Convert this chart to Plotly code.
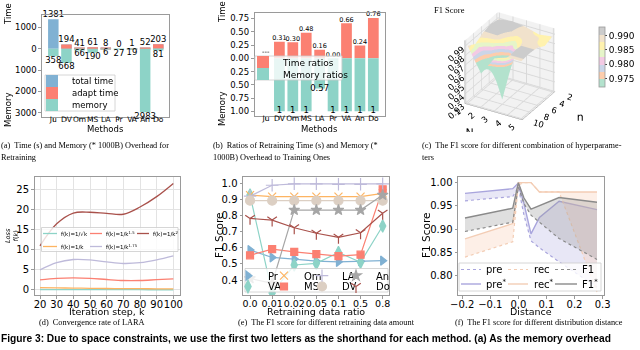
import plotly.graph_objects as go

W, H = 640, 350
def X(p):
    return p / W
def Y(p):
    return 1 - p / H

# ---------------- data ----------------
methods = ["Ju", "DV", "Om", "MS", "LA", "Pr", "VA", "An", "Do"]
total_time = [1381, 194, 41, 61, 8, 0, 1, 52, 203]
adapt_time = [None, 194, 41, 61, 8, 0, 1, 52, 203]
memory_kb = [358, 668, 66, 190, 6, 27, 19, 2983, 81]

time_ratio = [None, 0.31, 0.30, 0.48, 0.16, 0.00, 0.66, 0.24, 0.76]
memory_ratio = [None, 1, 1, 1, 0.57, 1, 1, 1, 1]

N_vals = [1, 2, 3, 4, 5]
n_vals = [2, 4, 6, 8, 10]
f1_grid = [  # rows: n, cols: N
    [0.990, 0.992, 0.990, 0.986, 0.988],
    [0.992, 0.993, 0.988, 0.990, 0.985],
    [0.990, 0.990, 0.980, 0.990, 0.990],
    [0.985, 0.975, 0.935, 0.991, 0.991],
    [0.990, 0.965, 0.985, 0.990, 0.990],
]

k_steps = [20, 30, 40, 50, 60, 70, 80, 90, 100]
conv_sqrt = [0.10, 0.08, 0.07, 0.06, 0.05, 0.05, 0.05, 0.04, 0.04]
conv_k1 = [0.55, 0.50, 0.45, 0.40, 0.35, 0.30, 0.30, 0.28, 0.27]
conv_k15 = [2.5, 2.9, 3.0, 2.9, 2.6, 2.35, 2.35, 2.55, 2.75]
conv_k175 = [5.0, 6.8, 7.6, 7.5, 7.0, 6.6, 6.8, 7.5, 8.5]
conv_k2 = [11.0, 16.5, 19.2, 19.4, 19.1, 18.9, 20.7, 23.3, 26.6]

ratios = ["0.0", "0.01", "0.02", "0.05", "0.1", "0.5", "0.8"]
f1_Pr = [0.586, 0.540, 0.530, 0.517, 0.513, 0.517, 0.520]
f1_VA = [0.927, 0.320, 0.493, 0.503, 0.571, 0.510, 0.735]
f1_Om = [0.927, 0.917, 0.917, 0.917, 0.917, 0.917, 0.938]
f1_MS = [0.553, 0.592, 0.575, 0.560, 0.548, 0.557, 0.963]
f1_LA = [0.920, 0.988, 0.997, 0.997, 0.994, 0.994, 0.997]
f1_DV = [0.892, 0.892, 0.892, 0.892, 0.892, 0.892, 0.892]
f1_An = [0.410, 0.380, 0.834, 0.834, 0.834, 0.834, 0.927]
f1_Do = [0.782, 0.772, 0.724, 0.690, 0.665, 0.693, 0.814]

dist = [-0.19, -0.02, 0.0, 0.02, 0.045, 0.075, 0.145, 0.28]
pre = [0.961, 0.970, 0.990, 0.930, 0.875, 0.860, 0.830, 0.775]
pre_s = [0.977, 0.987, 0.999, 0.955, 0.890, 0.925, 0.960, 0.942]
rec = [0.840, 0.873, 0.995, 1.000, 1.000, 0.980, 0.980, 0.765]
rec_s = [0.879, 0.912, 1.000, 1.000, 1.000, 0.980, 0.980, 0.980]
f1d = [0.895, 0.915, 0.990, 0.955, 0.930, 0.915, 0.880, 0.835]
f1d_s = [0.924, 0.945, 1.000, 0.967, 0.943, 0.950, 0.968, 0.958]

# ---------------- styles ----------------
BLUE, RED, TEAL = "#80b1d3", "#fb8072", "#8dd3c7"
ORANGE, LAV, GRAY = "#fdb462", "#bebada", "#a6a6a6"
BEIGE, BROWN = "#dccfc3", "#a9514b"
AX = "#9a9a9a"
SANS = "DejaVu Sans"
SERIF = "Liberation Serif"
LEG_DY = 0

fig = go.Figure()
ann = []
shapes = []
legends = {}


def text(x, y, s, size=9, family=SANS, xanchor="center", yanchor="middle", angle=0, color="#000"):
    ann.append(dict(x=X(x), y=Y(y), xref="paper", yref="paper", text=s, showarrow=False,
                    font=dict(size=size, family=family, color=color), xanchor=xanchor,
                    yanchor=yanchor, textangle=angle, borderpad=0))


def frame(x0, y0, x1, y1):
    shapes.append(dict(type="rect", xref="paper", yref="paper", x0=X(x0), x1=X(x1), y0=Y(y1), y1=Y(y0),
                       line=dict(color="#cccccc", width=0.8), fillcolor="rgba(255,255,255,0.8)", layer="above"))


leg_count = [0]
def new_legend(tx, ty, size):
    leg_count[0] += 1
    lid = "legend" if leg_count[0] == 1 else "legend%d" % leg_count[0]
    legends[lid] = dict(x=X(tx - 40), y=Y(ty + LEG_DY), xanchor="left", yanchor="middle", bgcolor="rgba(0,0,0,0)",
                        borderwidth=0, font=dict(size=size, family=SANS, color="#000"),
                        itemwidth=30, tracegroupgap=0)
    return lid


def axis_style(**kw):
    d = dict(showline=True, mirror=True, linecolor=AX, linewidth=0.8, ticks="outside", ticklen=3,
             tickcolor=AX, showgrid=False, zeroline=False, tickangle=0, automargin=False)
    d.update(kw)
    return d


def value_labels(xs, vals, neg, fmt, size, xa, ya, pos=None):
    px_, py_, pt_ = [], [], []
    for xv, v in zip(xs, vals):
        if v is None:
            continue
        px_.append(xv)
        py_.append(-v if neg else v)
        pt_.append(fmt(v))
    if pos is None:
        pos = "bottom center" if neg else "top center"
    fig.add_trace(go.Scatter(x=px_, y=py_, text=pt_, mode="text", textposition=pos,
                             textfont=dict(size=size, family=SANS, color="#000"), cliponaxis=False,
                             showlegend=False, hoverinfo="skip", xaxis=xa, yaxis=ya))

# ---------------- (a) ----------------
fig.add_trace(go.Bar(x=methods, y=total_time, marker=dict(color=BLUE, line=dict(width=0)), width=0.8,
                     name="total time", legend=new_legend(72, 81, 8.5), xaxis="x", yaxis="y"))
fig.add_trace(go.Bar(x=methods, y=adapt_time, marker=dict(color=RED, line=dict(width=0)), width=0.8,
                     name="adapt time", legend=new_legend(72, 93, 8.5), xaxis="x", yaxis="y"))
fig.add_trace(go.Bar(x=methods, y=[-m for m in memory_kb], marker=dict(color=TEAL, line=dict(width=0)), width=0.8,
                     name="memory", legend=new_legend(72, 105, 8.5), xaxis="x", yaxis="y"))
value_labels(methods, total_time, False, str, 8.5, "x", "y")
value_labels(methods, memory_kb, True, str, 8.5, "x", "y")
frame(45, 75, 115, 111)

# ---------------- (b) ----------------
fig.add_trace(go.Bar(x=methods, y=time_ratio, marker=dict(color=RED, line=dict(width=0)), width=0.8,
                     name="Time ratios", legend=new_legend(283, 62, 9), xaxis="x2", yaxis="y2"))
fig.add_trace(go.Bar(x=methods, y=[None if v is None else -v for v in memory_ratio],
                     marker=dict(color=TEAL, line=dict(width=0)), width=0.8,
                     name="Memory ratios", legend=new_legend(283, 74, 9), xaxis="x2", yaxis="y2"))
value_labels(methods, time_ratio, False, lambda v: "%.2f" % v, 6.5, "x2", "y2")
value_labels(methods, memory_ratio, True, lambda v: "%g" % v, 8.5, "x2", "y2", pos="middle center")
ann.append(dict(x="Ju", y=0, xref="x2", yref="y2", text="---", showarrow=False, yanchor="bottom",
                font=dict(size=7, family=SANS, color="#000")))
frame(255, 56, 342, 80)

# ---------------- (c) 3D ----------------
pastel2 = ["#b3e2cd", "#fdcdac", "#cbd5e8", "#f4cae4", "#e6f5c9", "#fff2ae", "#f1e2cc", "#cccccc"]
cs = []
for i, c in enumerate(pastel2):
    cs.append([i / 8, c])
    cs.append([(i + 1) / 8, c])
fig.add_trace(go.Surface(x=N_vals, y=n_vals, z=f1_grid, colorscale=cs, cmin=0.972, cmax=0.993,
                         lighting=dict(ambient=1, diffuse=0, specular=0, roughness=1, fresnel=0),
                         colorbar=dict(x=X(599), xanchor="left", xpad=0, ypad=0, y=Y(57), yanchor="middle",
                                       len=60 / H, thickness=6, outlinecolor=AX, outlinewidth=0.8,
                                       tickvals=[0.975, 0.98, 0.985, 0.99], ticktext=["0.975", "0.980", "0.985", "0.990"],
                                       tickfont=dict(size=9, family=SANS), ticks="outside", ticklen=2),
                         showscale=True, scene="scene", hoverinfo="skip"))
text(433, 10, "F1 Score", size=8.5, family=SERIF, xanchor="left")

# ---------------- (d) ----------------
conv_series = [(conv_sqrt, TEAL, "f(k)=1/√k"),
               (conv_k1, ORANGE, "f(k)=1/k"),
               (conv_k15, RED, "f(k)=1/k<sup>1.5</sup>"),
               (conv_k175, LAV, "f(k)=1/k<sup>1.75</sup>"),
               (conv_k2, BROWN, "f(k)=1/k<sup>2</sup>")]
for vals, col, name in conv_series:
    fig.add_trace(go.Scatter(x=k_steps, y=vals, mode="lines", line=dict(color=col, width=1.3, shape="spline"),
                             name=name, showlegend=False, xaxis="x3", yaxis="y3"))
frame(41.5, 227.5, 178, 251.5)
d_pos = [(43, 57, 60, 233.5), (43, 57, 60, 246.5), (90, 102, 105, 233.5), (90, 102, 105, 246.5), (137, 149, 152, 233.5)]
for (vals, col, name), (l0, l1, tx, ty) in zip(conv_series, d_pos):
    shapes.append(dict(type="line", xref="paper", yref="paper", x0=X(l0), x1=X(l1), y0=Y(ty), y1=Y(ty),
                       line=dict(color=col, width=1.3), layer="above"))
    text(tx, ty, name, size=5.5, xanchor="left")

# ---------------- (e) ----------------
e_series = [("Pr", f1_Pr, BLUE, "triangle-right", 8),
            ("VA", f1_VA, TEAL, "diamond-tall", 9),
            ("Om", f1_Om, ORANGE, "x-thin-open", 8),
            ("MS", f1_MS, RED, "square", 7),
            ("LA", f1_LA, LAV, "cross-thin-open", 9),
            ("DV", f1_DV, BEIGE, "circle", 9),
            ("An", f1_An, GRAY, "star", 8),
            ("Do", f1_Do, BROWN, "y-down-open", 8)]
e_leg = [(268, 275.7), (268, 286.5), (304, 275.7), (304, 286.5), (342, 275.7), (342, 286.5), (376, 275.7), (376, 286.5)]
for (name, vals, col, sym, sz), (tx, ty) in zip(e_series, e_leg):
    fig.add_trace(go.Scatter(x=ratios, y=vals, mode="lines", line=dict(color=col, width=1.2),
                             showlegend=False, xaxis="x4", yaxis="y4"))
    fig.add_trace(go.Scatter(x=ratios, y=vals, mode="markers", name=name,
                             marker=dict(symbol=sym, size=sz, color=col, line=dict(color=col, width=1.2)),
                             legend=new_legend(tx, ty, 10), xaxis="x4", yaxis="y4"))
frame(245, 268.5, 388, 292)

# ---------------- (f) ----------------
f_groups = [("pre", pre, pre_s, "#a9a5dd", "rgba(190,186,230,0.35)"),
            ("rec", rec, rec_s, "#f3cdb5", "rgba(248,210,185,0.35)"),
            ("F1", f1d, f1d_s, "#8a8a8a", "rgba(150,150,150,0.30)")]
for name, lo, hi, col, fillc in f_groups:
    fig.add_trace(go.Scatter(x=dist, y=lo, mode="lines", line=dict(color=col, width=1.2, dash="dot"),
                             name=name, showlegend=False, xaxis="x5", yaxis="y5"))
    fig.add_trace(go.Scatter(x=dist, y=hi, mode="lines", line=dict(color=col, width=1.4),
                             fill="tonexty", fillcolor=fillc,
                             name=name + "*", showlegend=False, xaxis="x5", yaxis="y5"))
frame(459, 263, 601, 291)
f_cols = [(461, 481, 485), (508, 528, 533), (555, 577, 581)]
for (name, lo, hi, col, fillc), (l0, l1, tx) in zip(f_groups, f_cols):
    shapes.append(dict(type="line", xref="paper", yref="paper", x0=X(l0), x1=X(l1), y0=Y(269.5), y1=Y(269.5),
                       line=dict(color=col, width=1.2, dash="dot"), layer="above"))
    shapes.append(dict(type="line", xref="paper", yref="paper", x0=X(l0), x1=X(l1), y0=Y(284), y1=Y(284),
                       line=dict(color=col, width=1.4), layer="above"))
    text(tx, 269.5, name, size=10, xanchor="left")
    text(tx, 284, name + "<sup>*</sup>", size=10, xanchor="left")

# ---------------- axis titles & captions ----------------
text(8, 14, "Time", size=8.5, angle=-90)
text(8, 110, "Memory", size=8.5, angle=-90)
text(105.8, 129, "Methods", size=8.5)
text(222, 12, "Time", size=8.5, angle=-90)
text(222, 109, "Memory", size=8.5, angle=-90)
text(319.6, 129, "Methods", size=8.5)
text(12, 236, "<i>Loss</i><br><i>f</i>(<i>k</i>)", size=6.5, angle=-90)
text(107, 311, "Iteration step, k", size=9.5)
text(219, 236, "F1 Score", size=10.5, angle=-90)
text(316, 311, "Retraining data ratio", size=9.5)
text(426, 236, "F1 Score", size=10.5, angle=-90)
text(531, 311, "Distance", size=9.5)

text(0, 145, "(a)  Time (s) and Memory (* 1000B) Overhead for", size=8.3, family=SERIF, xanchor="left")
text(0, 157, "Retraining", size=8.3, family=SERIF, xanchor="left")
text(212, 145, "(b)  Ratios of Retraining Time (s) and Memory (*", size=8.3, family=SERIF, xanchor="left")
text(212, 157, "1000B) Overhead to Training Ones", size=8.3, family=SERIF, xanchor="left")
text(421, 145, "(c)  The F1 score for different combination of hyperparame-", size=8.3, family=SERIF, xanchor="left")
text(421, 157, "ters", size=8.3, family=SERIF, xanchor="left")
text(92, 322, "(d)  Convergence rate of LARA", size=8.3, family=SERIF)
text(326, 322, "(e)  The F1 score for different retraining data amount", size=8.3, family=SERIF)
text(539, 322, "(f)  The F1 score for different distribution distance", size=8.3, family=SERIF)
text(0, 338, "<b>Figure 3: Due to space constraints, we use the first two letters as the shorthand for each method. (a) As the memory overhead</b>",
     size=10.2, family="Liberation Sans", xanchor="left")

# ---------------- layout ----------------
tf_tiny = dict(size=7.5, family=SANS, color="#000")
tf_small = dict(size=8.5, family=SANS, color="#000")
tf_big = dict(size=10, family=SANS, color="#000")
tf_cat = dict(size=9.5, family=SANS, color="#000")
layout = dict(
    width=W, height=H, margin=dict(l=0, r=0, t=0, b=0, pad=0, autoexpand=False),
    paper_bgcolor="white", plot_bgcolor="white", barmode="overlay",
    font=dict(family=SANS, color="#000"),
    xaxis=axis_style(domain=[X(42.3), X(169.3)], range=[-0.84, 8.84], tickfont=tf_tiny, anchor="y",
                     ticklabelstandoff=-8),
    yaxis=axis_style(domain=[Y(117), Y(14.5)], range=[-3201, 1599], tickvals=[1000, 0, -1000, -2000, -3000],
                     ticktext=["1000", "0", "1000", "2000", "3000"], tickfont=tf_small, anchor="x"),
    xaxis2=axis_style(domain=[X(254.7), X(384.6)], range=[-0.84, 8.84], tickfont=tf_tiny, anchor="y2",
                      ticklabelstandoff=-8),
    yaxis2=axis_style(domain=[Y(116), Y(13.3)], range=[-1.088, 0.848],
                      tickvals=[0.75, 0.5, 0.25, 0, -0.25, -0.5, -0.75, -1],
                      ticktext=["0.75", "0.50", "0.25", "0.00", "0.25", "0.50", "0.75", "1.00"],
                      tickfont=tf_small, anchor="x2"),
    xaxis3=axis_style(domain=[X(35), X(180)], range=[17, 104], tickvals=k_steps, tickfont=tf_big,
                      showgrid=True, gridcolor="#e3e3e3", gridwidth=0.8, anchor="y3", ticklabelstandoff=-3),
    yaxis3=axis_style(domain=[Y(295), Y(177)], range=[-1.27, 28.2], tickvals=[0, 5, 10, 15, 20, 25],
                      tickfont=tf_big, showgrid=True, gridcolor="#e3e3e3", gridwidth=0.8, anchor="x3"),
    xaxis4=axis_style(domain=[X(243.4), X(389.3)], type="category", range=[-0.3, 6.3], tickfont=tf_cat, anchor="y4",
                      ticklabelstandoff=-3),
    yaxis4=axis_style(domain=[Y(295), Y(176.7)], range=[0.307, 1.041], tickvals=[0.4, 0.5, 0.6, 0.7, 0.8, 0.9, 1.0],
                      tickformat=".1f", tickfont=tf_big, anchor="x4"),
    xaxis5=axis_style(domain=[X(458.4), X(603.6)], range=[-0.2135, 0.3035],
                      tickvals=[-0.2, -0.1, 0.0, 0.1, 0.2, 0.3],
                      ticktext=["\u22120.2", "\u22120.1", "0.0", "0.1", "0.2", "0.3"], tickfont=tf_big, anchor="y5",
                      ticklabelstandoff=-3),
    yaxis5=axis_style(domain=[Y(295), Y(177.3)], range=[0.7585, 1.0115], tickvals=[0.8, 0.85, 0.9, 0.95, 1.0],
                      tickformat=".2f", tickfont=tf_big, anchor="x5"),
    scene=dict(
        domain=dict(x=[X(422), X(598)], y=[Y(132), Y(0)]),
        xaxis=dict(title=dict(text="N", font=dict(size=11, family=SANS)), tickvals=N_vals,
                   tickfont=dict(size=10, family=SANS), showbackground=True, backgroundcolor="rgb(242,242,242)",
                   gridcolor="#d9d9d9", zeroline=False, showspikes=False, linecolor="#999"),
        yaxis=dict(title=dict(text="n", font=dict(size=11, family=SANS)), tickvals=n_vals, autorange="reversed",
                   tickfont=dict(size=10, family=SANS), showbackground=True, backgroundcolor="rgb(242,242,242)",
                   gridcolor="#d9d9d9", zeroline=False, showspikes=False, linecolor="#999"),
        zaxis=dict(title=dict(text=""), range=[0.93, 0.996], tickvals=[0.93, 0.94, 0.95, 0.96, 0.97, 0.98, 0.99],
                   tickformat=".2f", tickfont=dict(size=10, family=SANS), showbackground=True,
                   backgroundcolor="rgb(242,242,242)", gridcolor="#d9d9d9", zeroline=False, showspikes=False,
                   linecolor="#999"),
        camera=dict(eye=dict(x=1.05, y=-1.82, z=1.2), center=dict(x=0, y=0, z=0),
                    projection=dict(type="orthographic")),
        aspectmode="manual", aspectratio=dict(x=1, y=1, z=1.1),
    ),
    annotations=ann, shapes=shapes, showlegend=True,
)
layout.update(legends)
fig.update_layout(**layout)
fig.write_html("out.html", config={"displayModeBar": False},
               post_script="document.body.style.margin='0px';document.body.style.padding='0px';document.body.style.overflow='hidden';")
